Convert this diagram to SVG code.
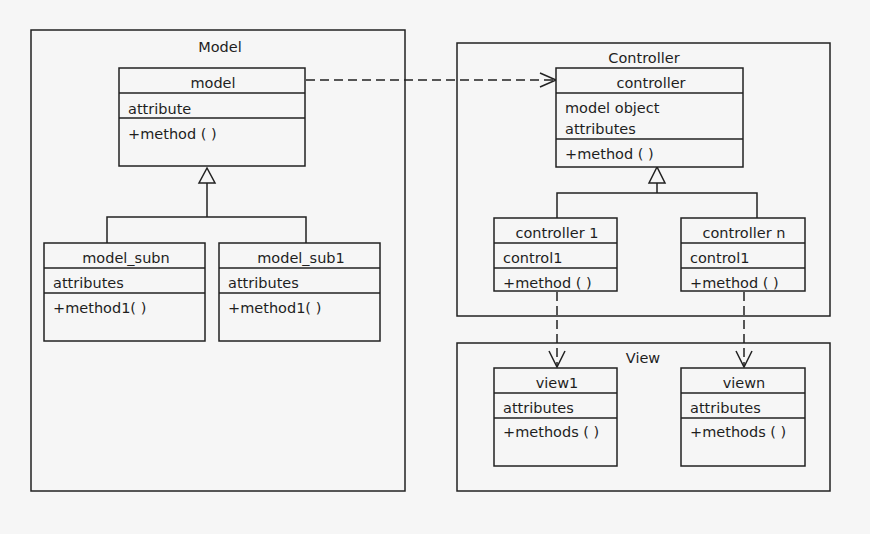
<svg xmlns="http://www.w3.org/2000/svg" width="870" height="534" viewBox="0 0 870 534">
  <defs>
    <style>
      .box { fill: none; stroke: #222; stroke-width: 1.5; }
      .cls { fill: #f6f6f6; stroke: #222; stroke-width: 1.5; }
      .sep { stroke: #222; stroke-width: 1.5; }
      .ln { fill: none; stroke: #222; stroke-width: 1.5; }
      .dash { fill: none; stroke: #222; stroke-width: 1.5; stroke-dasharray: 9 5; }
      .head { fill: none; stroke: #222; stroke-width: 1.5; }
      .tri { fill: #f6f6f6; stroke: #222; stroke-width: 1.5; }
      text { font-family: "DejaVu Sans", "Liberation Sans", sans-serif; font-size: 14.5px; fill: #1e1e1e; }
      .c { text-anchor: middle; }
    </style>
  </defs>

  <rect width="870" height="534" fill="#f6f6f6"/>

  <!-- packages -->
  <g id="pkg-model">
    <rect class="box" x="31" y="30" width="374" height="461"/>
    <text class="c" x="220" y="52">Model</text>
  </g>
  <g id="pkg-controller">
    <rect class="box" x="457" y="43" width="373" height="273"/>
    <text class="c" x="644" y="63">Controller</text>
  </g>
  <g id="pkg-view">
    <rect class="box" x="457" y="343" width="373" height="148"/>
    <text class="c" x="643" y="363">View</text>
  </g>

  <!-- connectors -->
  <g id="connectors">
    <!-- generalization: model subclasses -->
    <path class="ln" d="M207,183 V217 M107,243 V217 H306 V243"/>
    <polygon class="tri" points="207,168 199,183 215,183"/>
    <!-- generalization: controller subclasses -->
    <path class="ln" d="M657,183 V193 M557,218 V193 H757 V218"/>
    <polygon class="tri" points="657,167 649,183 665,183"/>
    <!-- dependency: model -> controller -->
    <path class="dash" d="M306,80 H554"/>
    <path class="head" d="M540,73 L556,80 L540,87"/>
    <!-- dependency: controller 1 -> view1 -->
    <path class="dash" d="M557,292 V366"/>
    <path class="head" d="M549,351 L557,367 L565,351"/>
    <!-- dependency: controller n -> viewn -->
    <path class="dash" d="M744,292 V366"/>
    <path class="head" d="M736,351 L744,367 L752,351"/>
  </g>

  <!-- classes -->
  <g id="model">
    <rect class="cls" x="119" y="68" width="186" height="98"/>
    <line class="sep" x1="119" y1="93" x2="305" y2="93"/>
    <line class="sep" x1="119" y1="118" x2="305" y2="118"/>
    <text class="c" x="213" y="88">model</text>
    <text x="128" y="114">attribute</text>
    <text x="128" y="139">+method ( )</text>
  </g>

  <g id="model_subn">
    <rect class="cls" x="44" y="243" width="161" height="98"/>
    <line class="sep" x1="44" y1="268" x2="205" y2="268"/>
    <line class="sep" x1="44" y1="293" x2="205" y2="293"/>
    <text class="c" x="126" y="263">model_subn</text>
    <text x="53" y="288">attributes</text>
    <text x="53" y="313">+method1( )</text>
  </g>

  <g id="model_sub1">
    <rect class="cls" x="219" y="243" width="161" height="98"/>
    <line class="sep" x1="219" y1="268" x2="380" y2="268"/>
    <line class="sep" x1="219" y1="293" x2="380" y2="293"/>
    <text class="c" x="301" y="263">model_sub1</text>
    <text x="228" y="288">attributes</text>
    <text x="228" y="313">+method1( )</text>
  </g>

  <g id="controller">
    <rect class="cls" x="556" y="68" width="187" height="99"/>
    <line class="sep" x1="556" y1="93" x2="743" y2="93"/>
    <line class="sep" x1="556" y1="139" x2="743" y2="139"/>
    <text class="c" x="651" y="88">controller</text>
    <text x="565" y="113">model object</text>
    <text x="565" y="134">attributes</text>
    <text x="565" y="159">+method ( )</text>
  </g>

  <g id="controller1">
    <rect class="cls" x="494" y="218" width="123" height="73"/>
    <line class="sep" x1="494" y1="243" x2="617" y2="243"/>
    <line class="sep" x1="494" y1="268" x2="617" y2="268"/>
    <text class="c" x="557" y="238">controller 1</text>
    <text x="503" y="263">control1</text>
    <text x="503" y="288">+method ( )</text>
  </g>

  <g id="controllern">
    <rect class="cls" x="681" y="218" width="124" height="73"/>
    <line class="sep" x1="681" y1="243" x2="805" y2="243"/>
    <line class="sep" x1="681" y1="268" x2="805" y2="268"/>
    <text class="c" x="744" y="238">controller n</text>
    <text x="690" y="263">control1</text>
    <text x="690" y="288">+method ( )</text>
  </g>

  <g id="view1">
    <rect class="cls" x="494" y="368" width="123" height="98"/>
    <line class="sep" x1="494" y1="393" x2="617" y2="393"/>
    <line class="sep" x1="494" y1="418" x2="617" y2="418"/>
    <text class="c" x="557" y="388">view1</text>
    <text x="503" y="413">attributes</text>
    <text x="503" y="437">+methods ( )</text>
  </g>

  <g id="viewn">
    <rect class="cls" x="681" y="368" width="124" height="98"/>
    <line class="sep" x1="681" y1="393" x2="805" y2="393"/>
    <line class="sep" x1="681" y1="418" x2="805" y2="418"/>
    <text class="c" x="744" y="388">viewn</text>
    <text x="690" y="413">attributes</text>
    <text x="690" y="437">+methods ( )</text>
  </g>
</svg>
